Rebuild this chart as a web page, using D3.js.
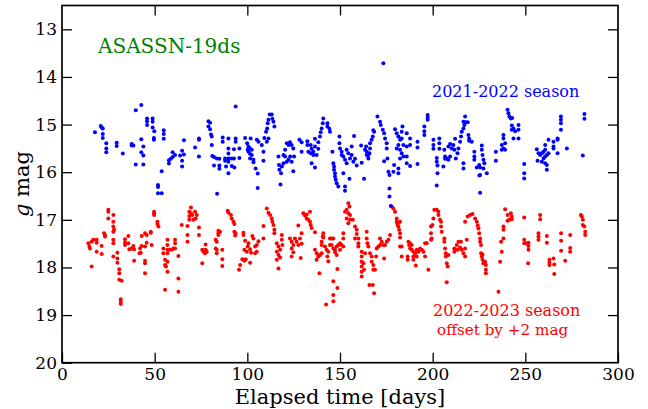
<!DOCTYPE html>
<html>
<head>
<meta charset="utf-8">
<script src="https://cdn.jsdelivr.net/npm/d3@7"></script>
<style>
  body { margin: 0; background: #fff; }
  text { font-family: "DejaVu Serif", serif; }
</style>
</head>
<body>
<div id="chart"></div>
<script>
// chart size and plot frame
var width = 648,
    height = 409,
    margin = { top: 5.5, right: 30, bottom: 46.3, left: 62 }

var xTicks = [0, 50, 100, 150, 200, 250, 300]
var yTicks = [13, 14, 15, 16, 17, 18, 19, 20]

var offset = 2 // the 2022-2023 season is shifted down by +2 mag

// 2021-2022 season: [elapsed days, g mag]
var season2122 = [
  [17.8,15.16],[20.9,15.03],[21.4,15.06],[22.0,15.08],[22.0,15.2],[22.0,15.28],[23.9,15.39],[23.9,15.5],[23.9,15.58],
  [29.5,15.38],[29.5,15.45],[32.8,15.61],[37.6,15.41],[38.5,15.44],[37.6,15.44],[39.8,14.7],[42.8,14.59],[42.8,15.31],
  [43.9,15.46],[42.8,15.58],[43.9,15.65],[39.8,15.84],[43.9,15.84],[45.9,14.87],[45.9,14.93],[45.9,15.01],[48.9,14.87],
  [48.9,14.94],[48.9,15.06],[49.8,15.14],[49.6,15.28],[49.6,15.32],[54.9,15.12],[54.9,15.2],[54.9,15.3],[53.8,15.98],
  [51.8,16.27],[51.8,16.31],[51.8,16.44],[53.8,16.44],[65.8,15.33],[59.7,15.58],[61.0,15.64],[59.7,15.68],[58.7,15.72],
  [57.7,15.75],[57.7,15.82],[63.7,15.65],[65.8,15.63],[64.8,15.55],[64.8,15.76],[64.8,15.88],
  [71.8,15.48],[73.9,15.29],[73.9,15.32],[73.9,15.67],[79.0,14.93],[79.9,14.96],[79.0,15.04],[79.9,15.1],[80.4,15.21],
  [80.8,15.25],[80.8,15.43],[81.1,15.66],[82.0,15.68],[83.5,15.71],[84.9,15.72],[82.0,15.86],[84.9,15.86],[84.9,15.93],
  [83.7,16.45],[86.7,15.27],[86.7,15.36],[89.8,15.29],[89.8,15.5],[89.8,15.61],[88.0,15.71],[88.0,15.76],[89.8,15.71],
  [89.8,15.78],[88.5,15.88],[89.8,16.02],[91.6,15.71],[92.8,15.71],[91.6,15.87],[93.0,15.9],[93.7,14.62],[93.7,15.29],
  [93.7,15.36],[92.8,15.52],[95.7,15.5],[95.7,15.7],[98.8,15.28],[99.9,15.39],[100.6,15.46],[101.5,15.5],[100.6,15.57],
  [101.5,15.62],[102.4,15.64],[101.5,15.71],[103.3,15.74],[100.2,15.53],[102.4,15.53],[101.8,15.29],[105.1,15.32],
  [106.0,15.36],[103.3,15.79],[104.5,15.92],[105.6,16.03],[105.6,16.33],[108.7,15.57],[108.7,15.76],[107.8,15.43],
  [109.2,15.28],[110.1,15.15],[110.7,15.08],[111.0,14.97],[111.4,14.9],[112.1,14.79],[113.2,14.79],[113.5,14.88],
  [114.1,14.94],[114.6,15.04],[110.5,15.36],[111.4,15.29],[116.8,15.67],[117.1,15.85],[117.3,15.95],[118.2,16.02],
  [118.6,15.88],[119.5,15.64],[120.4,15.53],[121.3,15.39],[122.2,15.43],[121.3,15.78],[122.2,15.74],[123.1,15.67],
  [117.9,16.26],[120.4,15.67],[119.5,15.81],
  [173.4,13.71],[123.0,15.37],[123.9,15.43],[124.8,15.5],[125.2,15.67],[123.9,15.78],[124.8,15.98],[128.1,15.32],
  [129.3,15.37],[129.3,15.57],[132.4,15.35],[132.4,15.43],[132.9,15.57],[134.2,15.43],[134.7,15.51],[135.6,15.57],
  [136.5,15.46],[134.2,15.6],[135.6,15.64],[137.4,15.64],[134.7,15.81],[136.5,15.9],[136.5,15.3],[138.3,15.37],
  [138.3,15.51],[139.2,15.25],[139.6,15.16],[140.1,15.08],[140.7,14.97],[141.0,14.87],[143.2,14.97],[143.2,15.04],
  [144.3,15.09],[144.6,15.15],[149.7,15.25],[149.7,15.39],[150.0,15.5],[150.9,15.57],[150.9,15.64],[151.8,15.67],
  [152.7,15.74],[153.6,15.81],[145.9,15.57],[146.4,15.81],[146.8,15.88],[146.8,15.95],[147.3,16.02],[147.3,16.09],
  [147.7,16.16],[148.2,16.23],[149.1,16.3],[151.8,16.02],[152.7,16.3],[152.7,16.39],[155.1,16.14],[153.6,15.53],
  [154.5,15.6],[155.4,15.71],[156.3,15.64],[156.3,15.46],[157.6,15.24],[157.2,15.78],[158.1,15.72],[159.0,15.86],
  [161.4,15.44],[161.7,15.8],[163.0,16.14],[163.5,15.53],[164.4,15.57],[165.3,15.64],[164.1,15.46],[166.2,15.5],
  [166.2,15.39],[167.1,15.32],[167.7,15.25],[168.4,15.15],[168.0,15.12],[165.3,15.71],[164.4,15.64],[165.9,15.6],
  [170.2,14.83],[171.6,14.94],[172.0,15.01],[173.1,15.11],[173.8,15.18],[174.3,15.29],[175.2,15.39],[175.2,15.5],
  [173.8,15.77],[175.6,15.71],[176.1,15.99],[176.7,16.06],[176.7,16.34],[176.7,16.51],[177.4,16.71],[178.8,15.99],
  [179.2,15.85],
  [179.7,15.1],[180.6,15.18],[181.5,15.25],[182.4,15.32],[183.3,15.29],[184.2,15.43],[181.5,15.43],[180.6,15.5],
  [182.4,15.53],[183.3,15.6],[184.2,15.67],[182.4,15.71],[186.0,15.67],[183.3,15.15],[186.0,15.18],[187.8,15.29],
  [187.8,15.43],[186.0,15.46],[181.5,15.92],[181.5,16.02],[186.0,15.81],[187.8,15.87],[183.7,15.04],[191.8,15.36],
  [191.8,15.48],[191.8,15.83],[195.5,15.04],[195.5,15.14],[195.5,15.22],[197.3,14.8],[197.3,14.85],[197.3,14.9],
  [200.4,15.32],[200.4,15.43],[200.4,15.51],[202.2,15.7],[202.2,15.78],[202.6,15.86],[202.6,16.02],[202.2,16.28],
  [203.6,15.29],[203.6,15.39],[203.6,15.51],[205.8,15.88],[206.3,15.53],[206.7,15.67],[206.7,15.72],[207.6,15.71],
  [208.5,15.46],[209.4,15.41],[210.3,15.5],[211.2,15.43],[212.1,15.3],[211.7,15.53],[212.5,15.71],[213.4,15.6],
  [213.9,15.5],[214.8,15.36],[215.3,15.25],[215.7,15.15],[216.6,15.08],[217.1,15.01],[216.6,14.94],[217.5,14.83],
  [217.9,14.95],[218.9,14.95],[209.4,15.67],[208.5,15.74],[219.3,15.22],[219.7,15.29],[219.7,15.34],[221.1,15.36],
  [216.6,15.81],[216.6,15.92],[222.5,15.57],[222.5,15.67],[222.5,15.74],[223.8,15.9],[225.1,15.85],[225.6,15.9],
  [226.5,15.44],[226.5,15.53],[226.9,15.64],[227.4,15.74],[227.9,15.81],[227.4,15.92],[225.6,16.06],[225.2,16.07],
  [225.6,16.43],[229.2,16.02],[234.1,15.57],[234.1,15.76],
  [237.3,15.43],[237.3,15.53],[238.2,15.5],[239.1,15.53],[238.2,15.29],[238.2,15.22],[239.1,15.39],[240.4,14.69],
  [240.9,14.76],[241.4,14.83],[242.2,14.87],[242.9,14.86],[242.7,15.02],[243.6,15.08],[244.5,15.14],[242.7,15.11],
  [246.3,15.01],[246.3,15.11],[243.6,15.29],[246.3,15.29],[249.4,15.83],[249.4,16.02],[249.4,16.13],[256.2,15.52],
  [257.1,15.6],[258.0,15.64],[258.9,15.6],[259.8,15.57],[260.7,15.53],[260.7,15.67],[261.6,15.64],[262.5,15.6],
  [259.8,15.71],[256.6,15.76],[258.9,15.78],[260.7,15.81],[261.6,15.85],[261.6,15.95],[260.7,15.43],[262.5,15.32],
  [265.2,15.36],[265.2,15.46],[265.2,15.5],[267.4,15.32],[267.4,15.29],[267.4,15.6],[269.2,14.83],[269.2,14.9],
  [269.2,14.97],[269.2,15.11],[272.4,15.5],[281.0,15.65],[281.9,14.78],[281.9,14.88]
]

// 2022-2023 season: [elapsed days, g mag], drawn with the +2 mag offset
var season2223 = [
  [14.2,15.49],[14.8,15.56],[15.1,15.6],[16.0,15.46],[16.9,15.42],[16.0,15.98],[18.7,15.42],[18.7,15.48],[18.7,15.67],
  [21.4,15.55],[21.4,15.72],[22.7,15.28],[23.2,15.35],[23.2,15.32],[25.0,14.79],[25.0,14.83],[25.0,14.97],[27.7,14.9],
  [27.7,15.04],[27.7,15.14],[28.1,15.21],[27.7,15.25],[27.7,15.42],[27.7,15.49],[27.7,15.77],[29.9,15.69],[29.9,15.81],
  [29.9,15.9],[30.9,16.04],[30.9,16.12],[30.9,16.26],[32.2,16.28],[31.7,16.67],[31.7,16.72],[31.7,16.77],[34.0,15.41],
  [34.0,15.48],[34.0,15.53],[35.8,15.34],[35.8,15.49],[36.3,15.62],[37.6,15.6],[38.5,15.55],[38.9,15.62],[38.9,15.86],
  [42.1,15.6],[42.5,15.69],[41.8,15.7],[43.0,15.55],[43.0,15.34],[44.8,15.28],[45.7,15.32],[44.8,15.56],[45.7,15.48],
  [44.8,15.86],[44.8,15.91],[44.8,16.12],[47.9,15.25],[47.9,15.27],[48.4,15.53],[49.7,14.83],[49.7,14.86],[49.7,14.9],
  [51.5,15.04],[51.5,15.09],[52.0,15.14],[54.7,15.6],[54.7,15.7],[55.6,15.84],[55.6,15.95],[56.1,15.98],[56.9,16.09],
  [56.9,15.88],[56.9,15.7],[56.9,15.63],[56.9,15.42],[56.9,15.53],[58.0,15.63],[59.2,15.63],[60.1,15.6],[61.0,15.6],
  [61.0,15.42],[61.0,15.49],[62.8,15.76],[62.8,16.23],[62.8,16.51],[55.6,16.47],[64.6,15.11],[67.7,15.13],[67.7,15.32],
  [67.7,15.46],[68.7,14.83],[68.7,14.92],[68.7,15.0],
  [69.6,14.74],[69.6,14.86],[70.3,14.9],[70.9,15.0],[71.8,14.83],[72.1,14.97],[72.7,14.9],[73.9,15.16],[73.9,15.32],
  [75.7,15.63],[76.3,15.67],[77.2,15.7],[77.5,15.63],[78.1,15.67],[75.7,15.91],[77.5,15.52],[82.9,15.42],[83.5,15.46],
  [84.4,15.28],[85.3,15.25],[84.4,15.32],[84.4,15.23],[82.9,15.6],[83.5,15.63],[83.5,15.7],[86.5,15.63],[86.5,15.83],
  [86.5,15.97],[89.4,14.81],[89.8,14.85],[91.2,14.9],[91.6,14.97],[92.5,15.04],[93.0,15.09],[93.0,15.25],[93.7,15.28],
  [93.4,15.33],[97.9,15.27],[97.9,15.32],[98.8,15.44],[100.6,15.49],[100.2,15.56],[98.4,15.63],[99.7,15.67],[101.5,15.62],
  [102.0,15.69],[102.7,15.34],[103.3,15.39],[104.2,15.56],[105.1,15.53],[106.0,15.45],[105.1,15.67],[104.2,15.7],
  [97.3,15.83],[98.4,15.86],[99.1,15.83],[101.5,15.9],[96.1,15.95],[95.5,16.05],[108.7,15.13],[108.7,15.39],[110.5,14.76],
  [111.4,14.85],[112.3,14.9],[113.2,14.97],[113.5,15.04],[114.1,15.11],[114.6,15.21],[114.6,15.28],[115.9,15.49],
  [116.8,15.56],[117.7,15.63],[115.9,15.67],[116.8,15.74],[117.7,15.79],[118.6,15.32],[118.6,15.42],[118.9,15.53],
  [115.9,15.84],[116.8,16.02],
  [123.0,15.39],[123.9,15.46],[124.8,15.53],[123.9,15.6],[124.8,15.68],[123.9,15.77],[125.7,15.39],[126.6,15.46],
  [127.5,15.53],[128.4,15.39],[129.3,15.28],[129.3,15.5],[128.8,15.8],[127.5,15.12],[130.2,14.86],[131.1,14.91],
  [132.0,14.97],[132.9,15.0],[133.8,15.04],[134.2,15.11],[133.8,14.83],[132.0,14.89],[134.7,15.17],[136.5,15.26],
  [136.5,15.63],[137.4,15.7],[138.3,15.77],[137.4,15.84],[139.2,15.74],[140.1,15.7],[140.1,15.53],[140.1,15.46],
  [140.7,15.35],[141.0,15.28],[141.0,15.37],[138.9,16.12],[141.9,15.56],[142.8,15.63],[143.7,15.67],[143.2,15.77],
  [143.7,15.87],[144.6,15.53],[144.6,15.39],[145.5,15.39],[146.4,15.39],[145.5,15.53],[146.4,15.6],[147.3,15.63],
  [148.2,15.56],[149.1,15.53],[150.0,15.49],[150.9,15.53],[151.8,15.56],[151.8,15.39],[151.8,15.28],[148.2,15.74],
  [147.3,15.68],[150.0,15.63],[148.6,16.03],[146.4,16.29],[148.6,16.43],[146.4,16.58],[146.4,16.71],[142.5,16.78],
  [152.7,14.83],[153.6,14.79],[154.5,14.65],[155.1,14.72],[154.5,14.86],[153.6,14.97],[155.4,14.9],[155.4,15.0],
  [154.5,15.07],[156.9,15.0],[158.1,15.14],[159.0,15.21],[159.0,15.3],[159.9,15.39],[159.9,15.49],[159.9,15.56],
  [158.1,15.39],[161.7,15.67],[161.7,15.77],[161.7,15.88],[161.7,15.98],[161.7,16.09],[161.7,16.19],[162.6,15.91],
  [163.0,16.05],[163.5,15.7],[164.4,15.25],[164.4,15.39],[164.8,15.49],[165.3,15.56],[166.2,15.7],[167.1,15.77],
  [167.1,15.88],[168.0,15.95],[168.0,16.05],[168.9,16.05],[169.5,15.77],[165.9,16.37],[167.7,16.37],[168.4,16.54],
  [169.8,15.6],[170.7,15.56],[171.6,15.39],[172.5,15.46],[173.4,15.53],[174.3,15.53],[175.2,15.46],[176.1,15.42],
  [177.0,15.32],[173.8,15.81],[171.6,15.53],[177.9,14.72],[178.8,14.76],[179.7,14.83],[180.6,14.97],[181.0,15.07],
  [181.5,15.14],
  [180.6,15.04],[181.1,15.11],[182.4,15.04],[181.9,15.21],[182.4,15.28],[182.4,15.37],[182.4,15.56],[183.3,15.56],
  [183.3,15.77],[186.9,15.46],[187.3,15.53],[187.8,15.49],[188.7,15.53],[187.8,15.6],[188.7,15.63],[189.6,15.67],
  [190.5,15.7],[191.4,15.63],[192.3,15.67],[193.2,15.6],[194.1,15.63],[195.0,15.67],[195.9,15.77],[189.6,15.77],
  [191.4,15.77],[186.5,15.77],[186.5,15.84],[189.6,15.84],[190.9,15.96],[195.9,15.49],[196.8,15.49],[197.7,16.05],
  [199.1,15.28],[199.5,15.39],[199.1,15.42],[199.9,15.11],[199.1,15.14],[200.4,14.97],[200.9,14.79],[202.2,14.79],
  [203.1,14.83],[203.1,14.9],[204.0,15.0],[204.5,15.04],[204.5,15.14],[204.9,15.25],[206.3,15.39],[206.3,15.46],
  [206.7,15.6],[207.1,15.7],[207.1,15.77],[207.6,15.91],[208.1,15.98],[207.6,16.31],[208.5,15.74],[211.7,15.6],
  [211.7,15.67],[213.0,15.53],[213.9,15.46],[215.3,15.46],[215.7,15.63],[216.6,15.7],[217.5,15.6],[217.5,15.77],
  [218.4,15.42],[214.8,15.58],[213.5,15.63],[217.5,15.04],[218.9,14.93],[220.2,14.9],[221.5,14.88],[222.9,14.97],
  [223.8,15.04],[224.3,15.12],[224.7,15.18],[225.1,15.28],[225.6,15.39],[225.6,15.46],[226.1,15.53],[226.1,15.7],
  [226.5,15.77],[226.9,15.84],[227.4,15.91],[228.3,15.88],[228.7,15.95],[228.7,16.05],[228.7,16.12],[226.9,15.73],
  [235.5,16.51],[236.9,15.46],[237.3,15.67],[236.4,15.88],[238.2,15.14],[238.2,15.21],[238.2,15.39],
  [239.1,14.78],[240.4,14.9],[240.4,15.02],[241.4,15.0],[242.2,14.86],[242.7,14.93],[242.7,14.99],[249.4,14.95],
  [249.4,15.42],[249.4,15.49],[250.8,15.49],[251.7,15.48],[251.7,15.55],[251.7,15.63],[251.5,15.91],[258.0,14.9],
  [258.0,14.99],[257.1,15.28],[257.1,15.35],[257.1,15.42],[261.6,15.34],[261.6,15.48],[263.0,15.84],[263.0,15.9],
  [263.0,15.95],[265.2,15.81],[265.6,15.94],[265.6,16.14],[269.3,15.28],[269.3,15.44],[269.3,15.65],[271.5,15.86],
  [274.2,15.32],[274.2,15.59],[274.2,15.67],[280.0,14.9],[280.5,14.93],[281.0,15.0],[281.0,15.11],[281.8,15.14],
  [282.3,15.25],[282.3,15.32]
]

var plotW = width - margin.left - margin.right,
    plotH = height - margin.top - margin.bottom

var x = d3.scaleLinear().domain([0, 300]).range([0, plotW])
// magnitudes: brighter at the top
var y = d3.scaleLinear().domain([12.5, 20]).range([0, plotH])

var svg = d3.select("#chart")
            .append("svg")
            .attr("width", width)
            .attr("height", height)
var g = svg.append("g")
           .attr("transform", "translate(" + margin.left + "," + margin.top + ")")

// points
g.selectAll("circle.s2223")
  .data(season2223)
  .enter()
  .append("circle")
  .attr("class", "s2223")
  .attr("cx", function(d) { return x(d[0]) })
  .attr("cy", function(d) { return y(d[1] + offset) })
  .attr("r", 2)
  .attr("fill", "#ff0000")

g.selectAll("circle.s2122")
  .data(season2122)
  .enter()
  .append("circle")
  .attr("class", "s2122")
  .attr("cx", function(d) { return x(d[0]) })
  .attr("cy", function(d) { return y(d[1]) })
  .attr("r", 2)
  .attr("fill", "#0000ff")

// axes, ticks pointing inward on all four sides
function styleAxis(sel) {
  sel.select(".domain").remove()
  sel.selectAll(".tick line").attr("stroke", "#000").attr("stroke-width", 1.3)
  sel.selectAll(".tick text")
     .attr("fill", "#000")
     .style("font-family", "DejaVu Serif")
     .style("font-size", "17px")
}

g.append("g")
  .attr("transform", "translate(0," + plotH + ")")
  .call(d3.axisBottom(x).tickValues(xTicks).tickSizeInner(-10).tickSizeOuter(0).tickPadding(5))
  .call(styleAxis)

g.append("g")
  .call(d3.axisTop(x).tickValues(xTicks.slice(1, -1)).tickSizeInner(-10).tickSizeOuter(0).tickFormat(""))
  .call(styleAxis)

g.append("g")
  .call(d3.axisLeft(y).tickValues(yTicks).tickSizeInner(-10).tickSizeOuter(0).tickPadding(5))
  .call(styleAxis)

g.append("g")
  .attr("transform", "translate(" + plotW + ",0)")
  .call(d3.axisRight(y).tickValues(yTicks.slice(0, -1)).tickSizeInner(-10).tickSizeOuter(0).tickFormat(""))
  .call(styleAxis)

// frame
g.append("rect")
  .attr("width", plotW)
  .attr("height", plotH)
  .attr("fill", "none")
  .attr("stroke", "#000")
  .attr("stroke-width", 1.7)

// labels
svg.append("text")
  .attr("x", margin.left + plotW / 2)
  .attr("y", 404)
  .attr("text-anchor", "middle")
  .style("font-size", "21px")
  .text("Elapsed time [days]")

var yl = svg.append("text")
  .attr("transform", "translate(29," + (margin.top + plotH / 2) + ") rotate(-90)")
  .attr("text-anchor", "middle")
  .style("font-size", "21px")
yl.append("tspan").style("font-style", "italic").text("g")
yl.append("tspan").text(" mag")

svg.append("text")
  .attr("x", 98)
  .attr("y", 53)
  .attr("fill", "#008000")
  .style("font-size", "20px")
  .text("ASASSN-19ds")

svg.append("text")
  .attr("x", 432)
  .attr("y", 97)
  .attr("fill", "#0000ff")
  .style("font-size", "16px")
  .text("2021-2022 season")

svg.append("text")
  .attr("x", 433)
  .attr("y", 316)
  .attr("fill", "#ff0000")
  .style("font-size", "16px")
  .text("2022-2023 season")

svg.append("text")
  .attr("x", 437)
  .attr("y", 335)
  .attr("fill", "#ff0000")
  .style("font-size", "15.2px")
  .text("offset by +2 mag")
</script>
</body>
</html>
